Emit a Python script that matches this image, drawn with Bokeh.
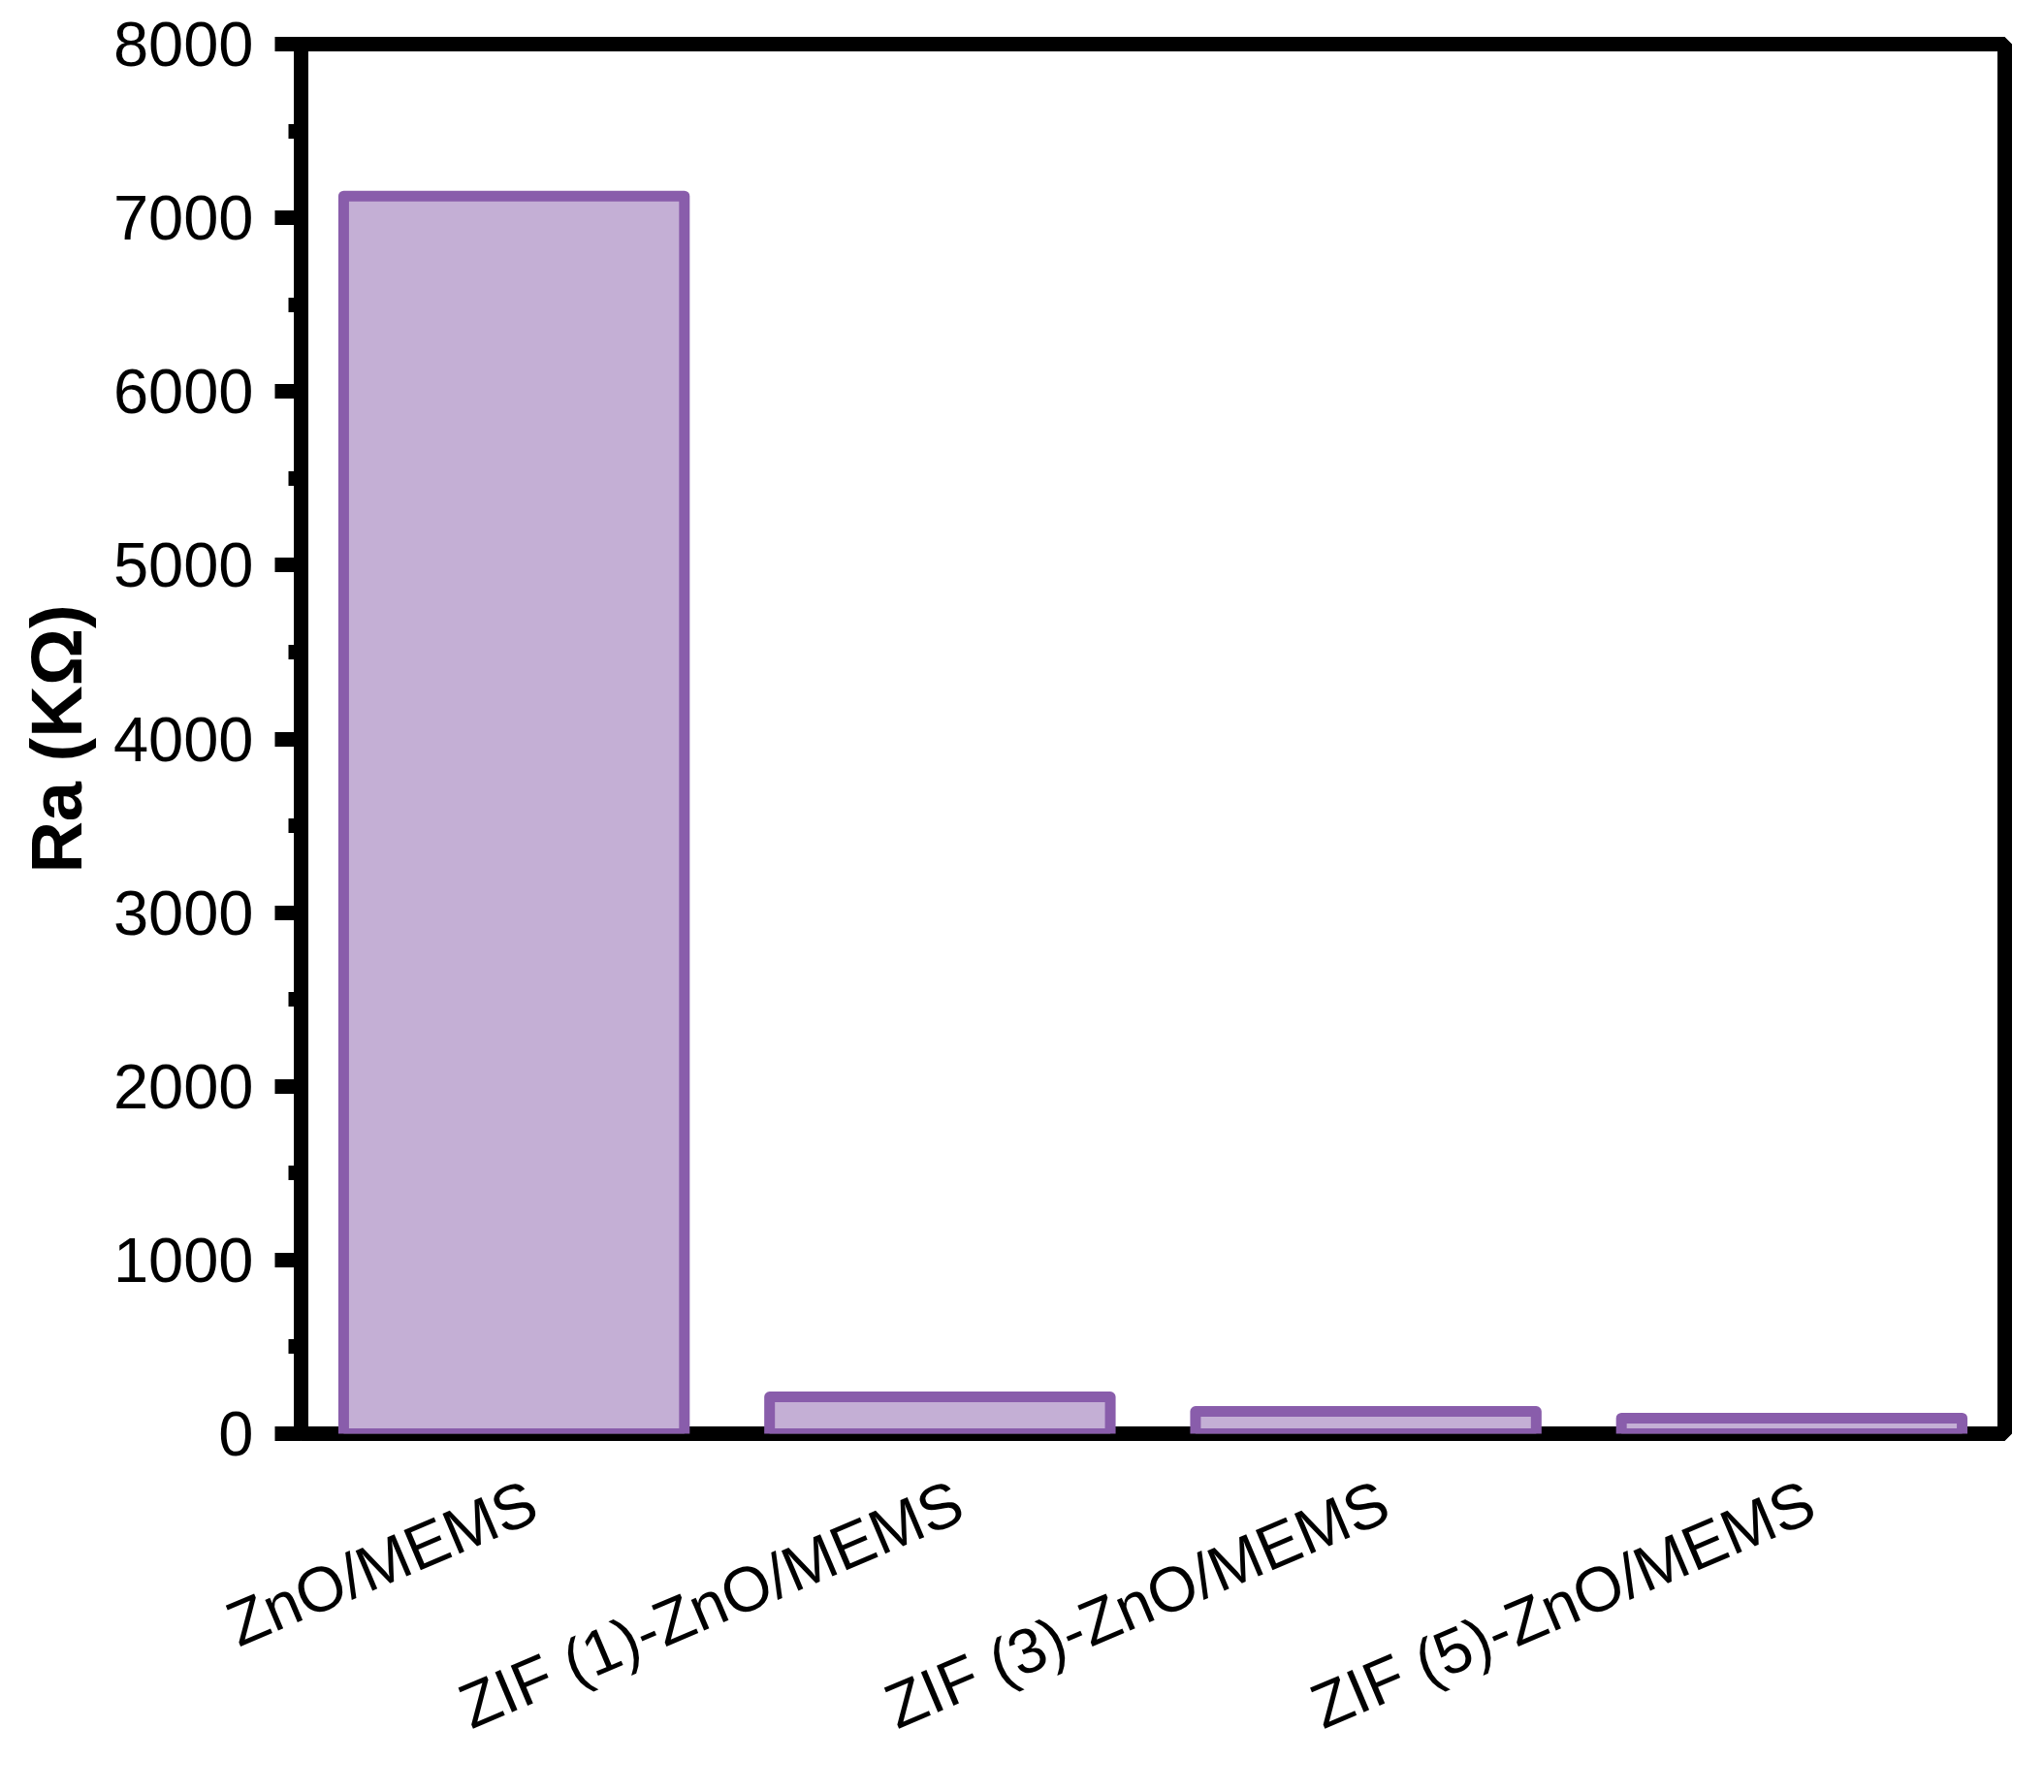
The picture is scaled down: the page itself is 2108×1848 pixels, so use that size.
import math
from bokeh.plotting import figure
from bokeh.models import Range1d, ColumnDataSource, FixedTicker, LinearAxis
from bokeh.embed import file_html
from bokeh.resources import INLINE

categories = ["ZnO/MEMS", "ZIF (1)-ZnO/MEMS", "ZIF (3)-ZnO/MEMS", "ZIF (5)-ZnO/MEMS"]
ra_values = [7125, 212, 128, 90]
y_ticks = [0, 1000, 2000, 3000, 4000, 5000, 6000, 7000, 8000]
y_minor = [500, 1500, 2500, 3500, 4500, 5500, 6500, 7500]

FONT = "Liberation Sans"

n = len(categories)
positions = list(range(1, n + 1))  # one slot per category

p = figure(
    width=2092, height=1832,
    x_range=Range1d(0.5, n + 0.5),
    y_range=Range1d(0, 8000),
    output_backend="svg", toolbar_location=None,
    min_border_left=310, min_border_right=25, min_border_top=45, min_border_bottom=353,
)

src = ColumnDataSource(dict(x=positions, top=ra_values, name=categories))
p.vbar(x="x", top="top", width=0.8, source=src,
       fill_color="#C4AFD5", line_color="#895DAB", line_width=11, line_join="round")

p.grid.visible = False
p.outline_line_color = "black"
p.outline_line_width = 15
p.background_fill_color = "white"
p.border_fill_color = "white"

yax = p.yaxis[0]
yax.ticker = FixedTicker(ticks=y_ticks, minor_ticks=y_minor)
yax.axis_line_width = 15
yax.major_tick_line_width = 15
yax.minor_tick_line_width = 15
yax.major_tick_out = 27
yax.major_tick_in = 0
yax.minor_tick_out = 13
yax.minor_tick_in = 0
yax.major_label_text_font = FONT
yax.major_label_text_font_size = "65px"
yax.major_label_text_color = "black"
yax.major_label_standoff = 22
yax.axis_label = "Ra (KΩ)"
yax.axis_label_text_font = FONT
yax.axis_label_text_font_style = "bold"
yax.axis_label_text_font_size = "74px"
yax.axis_label_text_color = "black"
yax.axis_label_standoff = 14

# default x axis hidden; the bottom frame line is the plot outline
p.xaxis[0].visible = False

# category-name axis: one tick per category, labels rotated like the original
label_shift = 0.045  # labels sit slightly right of the bar centres in the original
p.extra_x_ranges = {"labels": Range1d(0.5 - label_shift, n + 0.5 - label_shift)}
lab_axis = LinearAxis(
    x_range_name="labels",
    ticker=FixedTicker(ticks=positions, minor_ticks=[]),
    major_label_overrides={pos: c for pos, c in zip(positions, categories)},
    major_label_orientation=math.radians(23),
    major_label_standoff=67,
    major_label_text_font=FONT,
    major_label_text_font_size="65px",
    major_label_text_color="black",
    major_tick_line_color=None,
    minor_tick_line_color=None,
    major_tick_out=0, major_tick_in=0,
    axis_line_color=None,
)
p.add_layout(lab_axis, "below")

open("out.html", "w").write(file_html(p, INLINE))
